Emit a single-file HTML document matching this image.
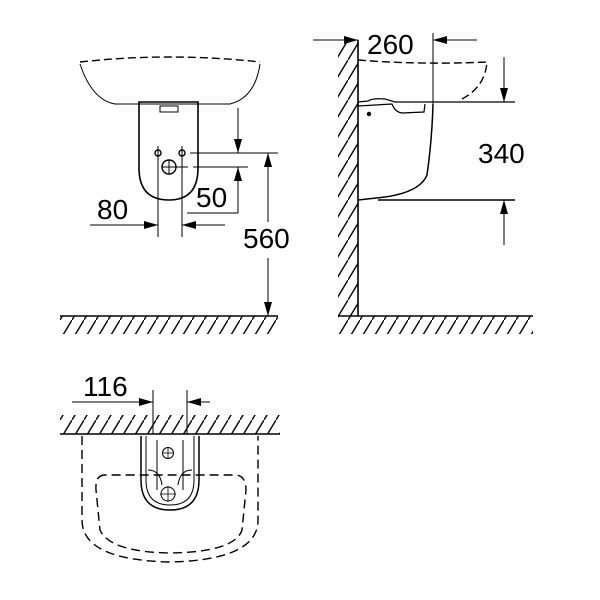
<!DOCTYPE html>
<html><head><style>body{margin:0;background:#fff}svg{display:block}text{font-family:"Liberation Sans",sans-serif;font-size:28px;fill:#000}</style></head><body>
<svg width="600" height="600" viewBox="0 0 600 600">
<defs>
<pattern id="h" width="12" height="20" patternUnits="userSpaceOnUse"><line x1="0" y1="20" x2="12" y2="0" stroke="#000" stroke-width="1.4"/></pattern>
</defs>
<g fill="none" stroke="#000" stroke-width="1.4">
<!-- top-left view -->
<path d="M80,62 Q170,52 260,62" stroke-dasharray="8,4"/>
<path d="M80,64 Q92,100 115,104 L230,104 Q255,98 260,64" stroke-width="1"/>
<path d="M139,102 L139,168 Q139,200 169,200 Q198,200 198,168 L198,102 Z" stroke-width="1.6"/>
<path d="M160,106 h18 v6 h-18z" stroke-width="1"/>
<circle cx="158" cy="153" r="3"/><circle cx="182" cy="153" r="3"/><circle cx="169" cy="167" r="7"/>
<path d="M158,146v91M182,146v91M162,167h26M169,160v14" stroke-width="1"/>
<path d="M190,153H278M193,167H248M187,213H238" stroke-width="1"/>
<path stroke-width="1" d="M90,225H158M225,225H182M238,108V153M238,213V167M268,222V153M268,258V316"/>
<rect x="60" y="316" width="218" height="18" fill="url(#h)" stroke="none"/>
<path d="M60,316H278" stroke-width="1.6"/>
<!-- right view -->
<rect x="338" y="40" width="20" height="276" fill="url(#h)" stroke="none"/>
<path d="M358,40V316" stroke-width="1.6"/>
<rect x="338" y="316" width="195" height="18" fill="url(#h)" stroke="none"/>
<path d="M338,316H533" stroke-width="1.6"/>
<path stroke-width="1" d="M313,40H358M477,40H433M504,57V102M504,245V200"/>
<path d="M433,33V105" stroke-width="1"/>
<path d="M358,60 Q420,65 487,62 Q485,88 460,100" stroke-dasharray="8,4"/>
<path d="M358,102 L368,101 Q372,98 385,99 Q392,101 395,102 L460,102 H515" stroke-width="1.2"/>
<path d="M358,106 L392,104 Q395,112 402,113 L424,112 L425,104" stroke-width="1.2"/>
<circle cx="369" cy="114" r="1.5" fill="#000"/>
<path d="M433,104 Q432,140 427,175 Q420,192 385,197 L358,200 M378,200H515" stroke-width="1.5"/>
<!-- bottom view -->
<rect x="60" y="415" width="220" height="19" fill="url(#h)" stroke="none"/>
<path d="M60,434H280" stroke-width="1.6"/>
<path d="M153,390V434M187,390V434" stroke-width="1"/>
<path stroke-width="1" d="M72,402H153M210,402H187"/>
<path d="M82,436 V520 Q82,560 170,562 Q258,560 258,520 V436" stroke-dasharray="9,5"/>
<path d="M105,475 Q95,475 96,490 L100,530 Q110,552 170,553 Q235,552 242,530 L246,490 Q246,475 235,475 Z" stroke-dasharray="9,5"/>
<path d="M141,436 V480 Q141,510 170,510 Q199,510 199,480 V436" stroke-width="1.5"/>
<path d="M146,436 V480 Q146,505 170,505 Q194,505 194,480 V436" stroke-width="1"/>
<path d="M157,440V490M183,440V490M148,470 Q160,470 162,485M192,470 Q180,470 178,485" stroke-width="1"/>
<circle cx="168" cy="453" r="5.5" stroke-width="1"/><circle cx="168" cy="494" r="7" stroke-width="1"/>
<path d="M162,453h12M168,447v12M160,494h16M168,486v16" stroke-width="0.8"/>
</g>
<g fill="#000">
<polygon points="144,221 158,225 144,229"/>
<polygon points="196,221 182,225 196,229"/>
<polygon points="234,139 238,153 242,139"/>
<polygon points="234,181 238,167 242,181"/>
<polygon points="264,167 268,153 272,167"/>
<polygon points="264,302 268,316 272,302"/>
<polygon points="344,36 358,40 344,44"/>
<polygon points="447,36 433,40 447,44"/>
<polygon points="500,88 504,102 508,88"/>
<polygon points="500,214 504,200 508,214"/>
<polygon points="139,398 153,402 139,406"/>
<polygon points="201,398 187,402 201,406"/>
</g>
<g>
<rect x="246" y="224" width="44" height="28" fill="#fff"/>
<text x="97" y="219">80</text>
<text x="196" y="207">50</text>
<text x="243" y="248">560</text>
<text x="367" y="54">260</text>
<text x="478" y="163">340</text>
<text x="83" y="396">116</text>
</g>
</svg>
</body></html>
